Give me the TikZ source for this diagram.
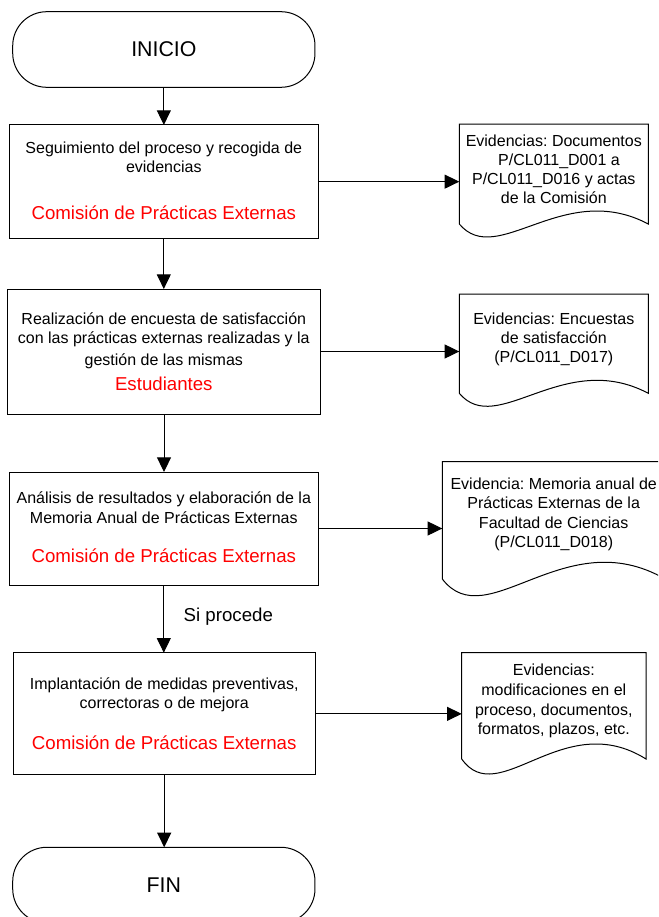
\documentclass[tikz,border=0pt]{standalone}
\usepackage{fontspec}
\setmainfont{Liberation Sans}
\usetikzlibrary{arrows.meta}
\newcommand\docshape[5]{%
  \draw[shapeline] (#1,#4) -- (#1,#2) -- (#3,#2) -- (#3,#4)
    .. controls ({#1+0.55*(#3-#1)},{#4-#5}) and ({#1+0.2*(#3-#1)},{#4+#5}) .. (#1,#4) -- cycle;}
\newcommand\tline[5]{\node[#1] (#2) at (#3,#4) {#5};}
\begin{document}
\frenchspacing
\begin{tikzpicture}[x=0.75pt,y=-0.75pt,
  shapeline/.style={draw=black,line width=0.75pt},
  arr/.style={draw=black,line width=0.75pt,-{Triangle[length=11pt,width=10.5pt]}},
  box/.style={draw=black,line width=0.75pt,rectangle,inner sep=0pt,outer sep=0pt},
  term/.style={box,rounded corners=25.5pt,font=\fontsize{16}{18}\selectfont},
  blk/.style={anchor=base,inner sep=0pt,font=\fontsize{12}{14}\selectfont},
  redt/.style={anchor=base,inner sep=0pt,text=red,font=\fontsize{14}{16}\selectfont},
  lbl/.style={anchor=base,inner sep=0pt,font=\fontsize{14}{16}\selectfont}]
\path[use as bounding box] (0,0) rectangle (658,917);
\clip (0,0) rectangle (658,917);

% terminals
\node[term,minimum width=226.7pt,minimum height=56.7pt] (t1) at (163.85,49.5) {INICIO};
\node[term,minimum width=226.7pt,minimum height=56.7pt] (t2) at (163.85,885.1) {FIN};

% process boxes
\node[box,minimum width=231.75pt,minimum height=85pt] (b1) at (163.8,181.65) {};
\node[box,minimum width=235pt,minimum height=93.75pt] (b2) at (164,351.5) {};
\node[box,minimum width=231.75pt,minimum height=84.75pt] (b3) at (163.8,528.5) {};
\node[box,minimum width=226.3pt,minimum height=91.7pt] (b4) at (164.2,713.85) {};

% box texts
\tline{blk}{b1a}{163.8}{153.7}{Seguimiento del proceso y recogida de}
\tline{blk}{b1b}{163.8}{172.7}{evidencias}
\tline{redt}{b1c}{163.8}{219.4}{Comisión de Prácticas Externas}

\tline{blk}{b2a}{163.8}{324}{Realización de encuesta de satisfacción}
\tline{blk}{b2b}{163.8}{343}{con las prácticas externas realizadas y la}
\tline{blk}{b2c}{163.8}{365.7}{gestión de las mismas}
\tline{redt}{b2d}{163.8}{390}{Estudiantes}

\tline{blk}{b3a}{163.8}{503}{Análisis de resultados y elaboración de la}
\tline{blk}{b3b}{163.8}{523}{Memoria Anual de Prácticas Externas}
\tline{redt}{b3c}{163.8}{562.7}{Comisión de Prácticas Externas}

\tline{blk}{b4a}{164.2}{689}{Implantación de medidas preventivas,}
\tline{blk}{b4b}{164.2}{708.4}{correctoras o de mejora}
\tline{redt}{b4c}{164.2}{749.4}{Comisión de Prácticas Externas}

\tline{lbl}{sip}{228.3}{621.7}{Si procede}

% documents
\docshape{459.3}{124}{648.3}{224}{45}
\tline{blk}{d1a}{553.8}{146.4}{Evidencias: Documentos}
\tline{blk}{d1b}{559}{165.3}{P/CL011\_D001 a}
\tline{blk}{d1c}{553.8}{184.4}{P/CL011\_D016 y actas}
\tline{blk}{d1d}{553.8}{203.2}{de la Comisión}

\docshape{459.3}{294}{648.3}{393.3}{45}
\tline{blk}{d2a}{553.8}{324.7}{Evidencias: Encuestas}
\tline{blk}{d2b}{553.8}{343.5}{de satisfacción}
\tline{blk}{d2c}{553.8}{362.4}{(P/CL011\_D017)}

\docshape{442.3}{461.7}{665.1}{579}{58}
\tline{blk}{d3a}{553.7}{489}{Evidencia: Memoria anual de}
\tline{blk}{d3b}{553.7}{508.5}{Prácticas Externas de la}
\tline{blk}{d3c}{553.7}{528}{Facultad de Ciencias}
\tline{blk}{d3d}{553.7}{547.5}{(P/CL011\_D018)}

\docshape{461.7}{652.7}{646}{759}{52}
\tline{blk}{d4a}{553.8}{675.7}{Evidencias:}
\tline{blk}{d4b}{553.8}{695.5}{modificaciones en el}
\tline{blk}{d4c}{553.8}{715}{proceso, documentos,}
\tline{blk}{d4d}{553.8}{734.3}{formatos, plazos, etc.}

\coordinate (d1in) at (459.3,181.65);
\coordinate (d2in) at (459.3,351.5);
\coordinate (d3in) at (442.3,528.5);
\coordinate (d4in) at (461.7,713.85);

% connectors
\draw[arr] (t1.south) -- (t1.south |- b1.north);
\draw[arr] (b1.south) -- (b1.south |- b2.north);
\draw[arr] (b2.south) -- (b2.south |- b3.north);
\draw[arr] (b3.south) -- (b3.south |- b4.north);
\draw[arr] (b4.south) -- (b4.south |- t2.north);
\draw[arr] (b1.east) -- (d1in);
\draw[arr] (b2.east) -- (d2in);
\draw[arr] (b3.east) -- (d3in);
\draw[arr] (b4.east) -- (d4in);
\end{tikzpicture}
\end{document}
